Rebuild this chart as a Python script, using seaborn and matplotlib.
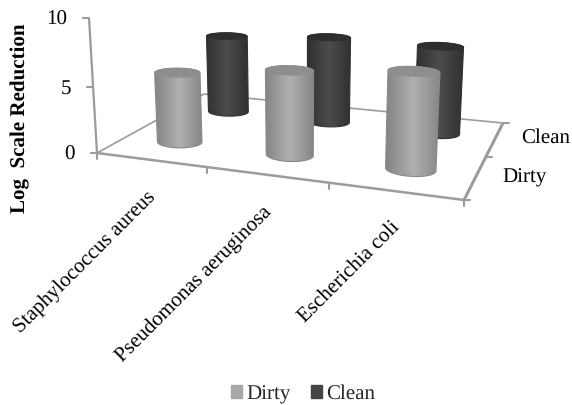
import numpy as np
import pandas as pd
import matplotlib
matplotlib.use("Agg")
import matplotlib.pyplot as plt
from matplotlib.colors import LinearSegmentedColormap
from matplotlib.patches import Patch, Polygon
import seaborn as sns

# ---- data ----
organisms = ["Staphylococcus aureus", "Pseudomonas aeruginosa", "Escherichia coli"]
conditions = ["Dirty", "Clean"]
dirty_values = [5.4, 6.3, 6.95]
clean_values = [6.5, 7.0, 6.9]
y_ticks = [0, 5, 10]

df = pd.DataFrame({"organism": organisms * 2,
                   "condition": ["Dirty"] * 3 + ["Clean"] * 3,
                   "reduction": dirty_values + clean_values})

sns.set_theme(style="white")
plt.rcParams["font.family"] = ["Liberation Serif", "DejaVu Serif"]
plt.rcParams["text.hinting"] = "no_hinting"
plt.rcParams["text.hinting_factor"] = 1

swatch = {"Dirty": "#a8a8a8", "Clean": "#444444"}
cap = {"Dirty": "#8e8e8e", "Clean": "#2e2e2e"}
shade = {"Dirty": LinearSegmentedColormap.from_list("d", ["#858585", "#b0b0b0", "#858585"]),
         "Clean": LinearSegmentedColormap.from_list("c", ["#303030", "#4c4c4c", "#303030"])}
rim = {"Dirty": "#8a8a8a", "Clean": "#333333"}
AXIS = "#9c9c9c"

# ---- camera: floor corners + vertical vanishing, screen pixels ----
src = [(0, 0), (3, 0), (3, 2), (0, 2)]
dst = [(97, 153), (464, 200), (503, 123), (204, 94)]
A, b = [], []
for (u, v), (X, Y) in zip(src, dst):
    A.append([u, v, 1, 0, 0, 0, -u * X, -v * X]); b.append(X)
    A.append([0, 0, 0, u, v, 1, -u * Y, -v * Y]); b.append(Y)
h = np.linalg.solve(np.array(A, float), np.array(b, float))
c = -0.00379
P = np.array([[h[0], h[1], c * 300, h[2]],
              [h[3], h[4], c * 3578, h[5]],
              [h[6], h[7], c, 1.0]])


def project(x, y, z):
    x, y, z = np.broadcast_arrays(x, y, z)
    q = P @ np.vstack([x.ravel(), y.ravel(), z.ravel(), np.ones(x.size)])
    return q[0] / q[2], q[1] / q[2]


def pt(x, y, z):
    xs, ys = project(float(x), float(y), float(z))
    return float(xs[0]), float(ys[0])


def hull(points):
    pts = sorted(set(map(tuple, points)))

    def half(seq):
        out = []
        for p in seq:
            while len(out) > 1 and ((out[-1][0] - out[-2][0]) * (p[1] - out[-2][1])
                                    - (out[-1][1] - out[-2][1]) * (p[0] - out[-2][0])) <= 0:
                out.pop()
            out.append(p)
        return out[:-1]

    return np.array(half(pts) + half(pts[::-1]))


fig = plt.figure(figsize=(5.72, 4.05), dpi=100)
ax = fig.add_axes([0, 0, 1, 1])


def seg(a, b, lw=1.5, color=AXIS):
    xs, ys = project(*np.array([a, b]).T)
    ax.plot(xs, ys, color=color, lw=lw, solid_capstyle="butt", zorder=1)


# floor outline
seg((0, 0, 0), (3, 0, 0), 1.8)
seg((3, 0, 0), (3, 2, 0), 2.2)
seg((0, 0, 0), (0, 2, 0), 1.2)
seg((0, 2, 0), (3, 2, 0), 1.2)
seg((0, 0, 0), (0, 0, 10), 1.6)

# ticks
for i in range(4):
    X, Y = pt(i, 0, 0)
    ax.plot([X, X], [Y, Y + 6], color=AXIS, lw=1.5, zorder=1)
for j in range(3):
    X, Y = pt(3, j, 0)
    ax.plot([X, X + 6], [Y, Y], color=AXIS, lw=1.5, zorder=1)
for t in y_ticks:
    X, Y = pt(0, 0, t)
    ax.plot([X - 6, X], [Y, Y], color=AXIS, lw=1.5, zorder=1)
    ax.text(X - 22, Y + 2, str(t), ha="right", va="center", fontsize=15, color="black")

# cylinders
RX, RY = 0.195, 0.16
theta = np.linspace(0, 2 * np.pi, 181)
ramp = np.linspace(0, 1, 64)[None, :]


def cylinder(ci, yi, value, cond, z):
    cx, cy = ci + 0.5, yi + 0.5
    ux, uy = cx + RX * np.cos(theta), cy + RY * np.sin(theta)
    bx, by = project(ux, uy, 0)
    tx, ty = project(ux, uy, value)
    outline = hull(np.column_stack([np.r_[bx, tx], np.r_[by, ty]]))
    body = Polygon(outline, closed=True, facecolor="none", edgecolor=rim[cond], lw=0.8, zorder=z + 0.05)
    ax.add_patch(body)
    im = ax.imshow(ramp, cmap=shade[cond], vmin=0, vmax=1, aspect="auto", interpolation="bilinear",
                   extent=(outline[:, 0].min(), outline[:, 0].max(), outline[:, 1].max(), outline[:, 1].min()),
                   zorder=z)
    im.set_clip_path(body)
    ax.fill(tx, ty, color=cap[cond], lw=0.4, zorder=z + 0.1)


for yi, cond in reversed(list(enumerate(conditions))):
    sub = df[df["condition"] == cond]
    for ci, value in enumerate(sub["reduction"]):
        cylinder(ci, yi, value, cond, 3 + (1 - yi) + ci * 0.01)

ax.set_xlim(0, 572)
ax.set_ylim(405, 0)
ax.axis("off")

# text
ax.text(20, 118, "Log  Scale Reduction", rotation=90, ha="center", va="center",
        fontsize=15.2, fontweight="bold", color="black")
label_pos = [(85.5, 262), (194, 284), (349, 272)]
for name, (lx, ly) in zip(organisms, label_pos):
    ax.text(lx, ly, name, rotation=45, ha="center", va="center", rotation_mode="anchor",
            fontsize=15, color="black")
ax.text(546, 138, "Clean", ha="center", va="center", fontsize=15, color="black")
ax.text(525, 177, "Dirty", ha="center", va="center", fontsize=15, color="black")

handles = [Patch(color=swatch[c_], label=c_) for c_ in conditions]
ax.legend(handles=handles, loc="center", bbox_to_anchor=(303 / 572, 1 - 394 / 405), ncol=2, frameon=False,
          fontsize=15, handlelength=0.55, handleheight=0.55, handletextpad=0.2, columnspacing=0.95,
          borderpad=0, labelspacing=0)

fig.savefig("out.png", dpi=100)
